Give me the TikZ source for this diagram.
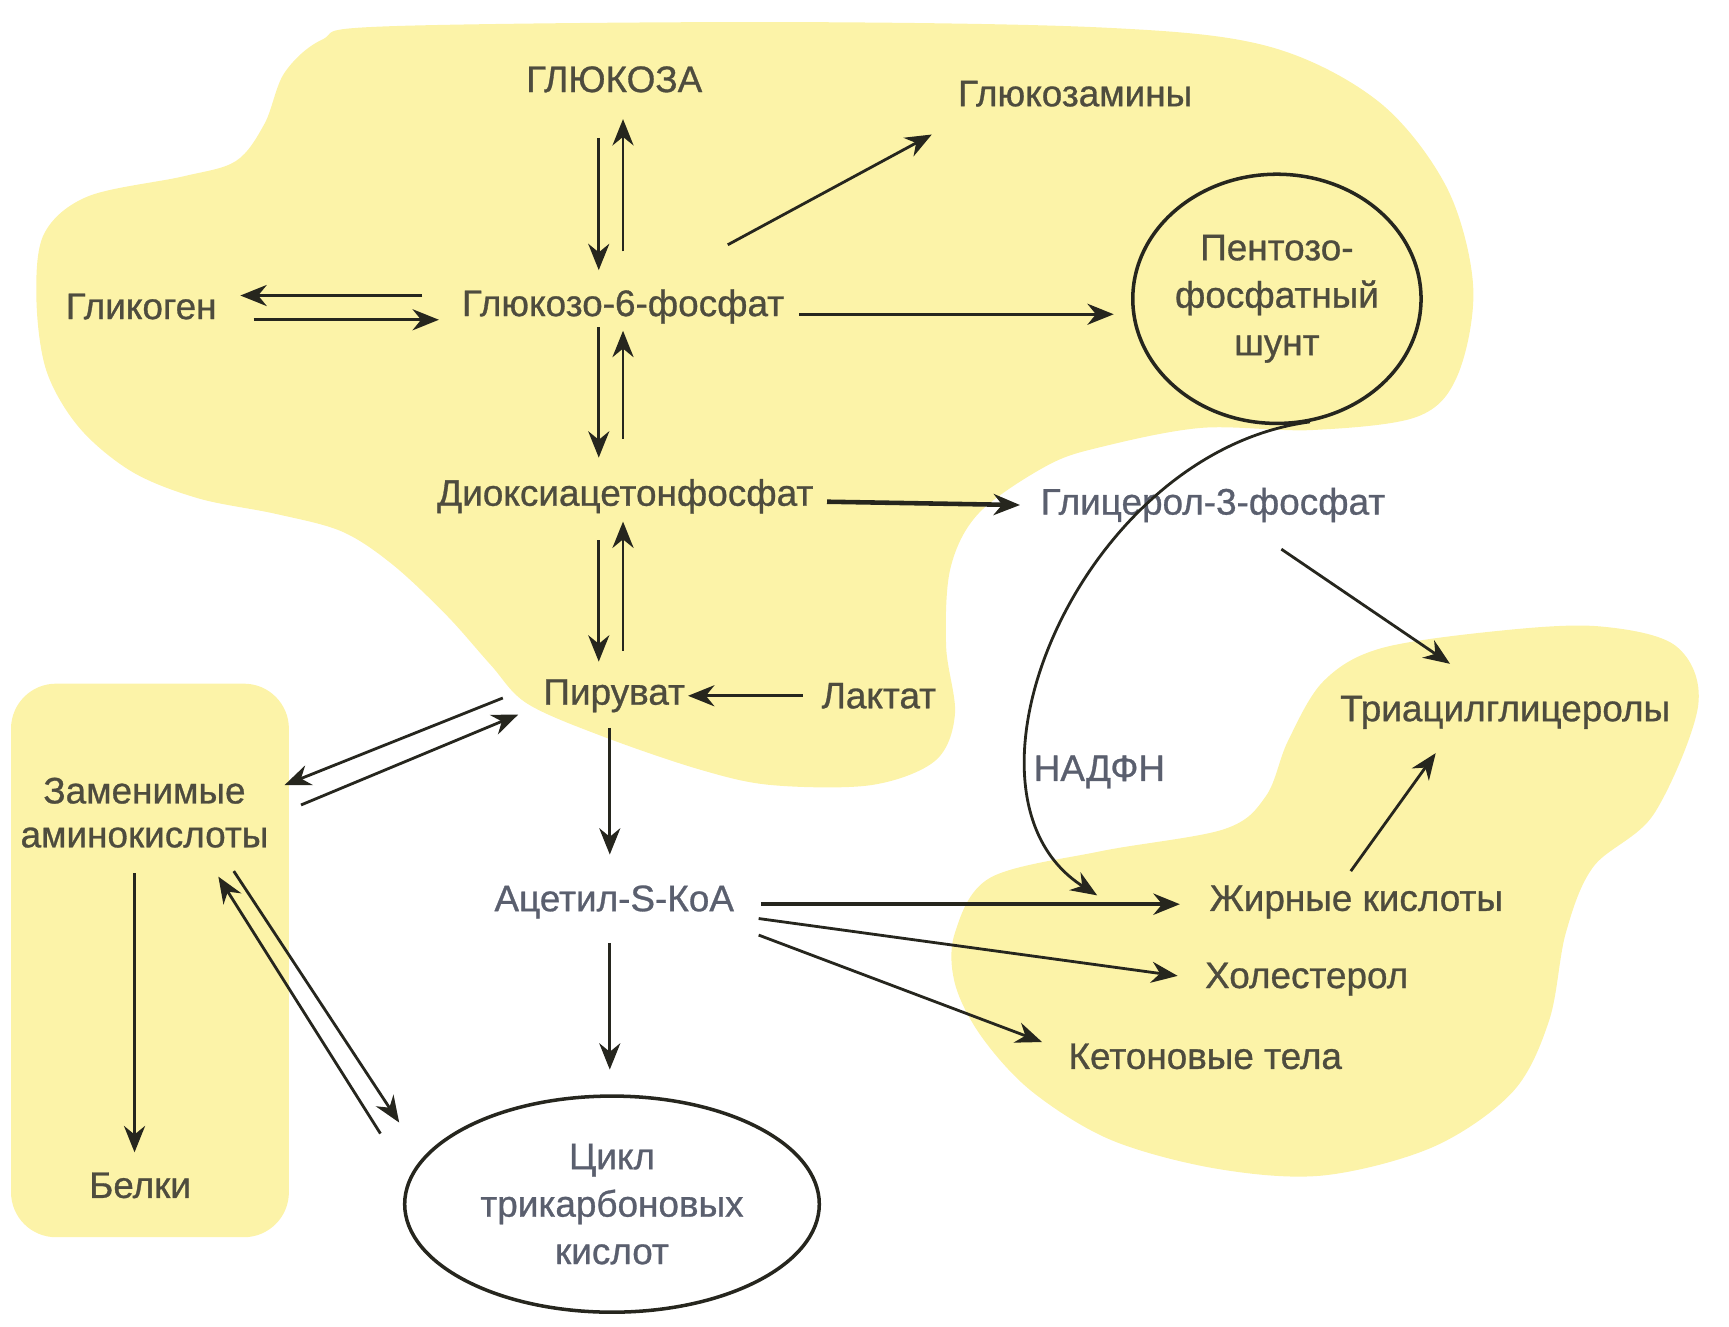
\documentclass[tikz,border=0pt]{standalone}
\usepackage{fontspec}
\setmainfont{Liberation Sans}[RawFeature={embolden=0.8}]
\usepackage{tikz}
\usetikzlibrary{positioning,arrows.meta,shapes.geometric,calc}
\definecolor{blobY}{HTML}{FCF3A8}
\definecolor{txtY}{HTML}{4E4C3E}
\definecolor{txtW}{HTML}{5A5F6E}
\definecolor{ink}{HTML}{26261E}
\tikzset{
  met/.style={text=txtY,font=\fontsize{10.5}{12.5}\selectfont,align=center,inner sep=2pt},
  metw/.style={met,text=txtW},
  cyc/.style={draw=ink,ellipse,line width=1pt,align=center,inner sep=0pt},
  blob/.style={fill=blobY},
  arr/.style={-{Stealth[length=7.5pt,width=6pt]},draw=ink,line width=0.8pt},
  arrb/.style={arr,line width=1.3pt},
}

\begin{document}
\begin{tikzpicture}[x=0.11027mm,y=-0.11027mm]
\useasboundingbox (0,0) rectangle (1568,1203);
% yellow areas
\fill[blob] plot[smooth cycle,tension=0.55] coordinates {
  (348,24) (700,20) (1000,25) (1150,42) (1250,92) (1312,170) (1336,260)
  (1322,340) (1285,378) (1190,390) (1090,388) (1000,405) (950,422) (888,465)
  (862,515) (858,586) (866,648) (848,690) (790,712) (700,712) (635,698)
  (547,668) (478,638) (445,603) (405,558) (356,512) (310,482) (250,466)
  (180,452) (120,428) (72,388) (42,336) (33,270) (40,212)
  (80,178) (166,160) (214,146) (240,112) (258,66) (292,36)};
\fill[blob] plot[smooth cycle,tension=0.55] coordinates {
  (998,772) (1110,752) (1148,722) (1168,672) (1200,618) (1252,588)
  (1360,572) (1450,568) (1520,586) (1540,640) (1500,738) (1445,786)
  (1420,846) (1405,925) (1372,990) (1300,1040) (1200,1066) (1104,1060)
  (1008,1034) (936,990) (890,940) (866,892) (866,846) (898,796)};
\fill[blob,rounded corners=4.5mm] (10,620) rectangle (262,1122);

% metabolites
\node[met] (glc) at (557,72) {ГЛЮКОЗА};
\node[met] (gam) at (975,85) {Глюкозамины};
\node[met] (glg) at (128,278) {Гликоген};
\node[met] (g6p) at (565,278) {Глюкозо-6-фосфат};
\node[cyc,minimum width=248*0.11027mm,minimum height=226*0.11027mm,text=txtY,
  font=\fontsize{10.5}{13.5}\selectfont] (ppp) at (1158,271) {Пентозо-\\фосфатный\\шунт};
\node[met] (dhap) at (567,450) {Диоксиацетонфосфат};
\node[metw] (g3p) at (1100,458) {Глицерол-3-фосфат};
\node[met] (pyr) at (557,631) {Пируват};
\node[met] (lac) at (797,631) {Лактат};
\node[met] (aa) at (131,737) {Заменимые\\аминокислоты};
\node[metw] (acoa) at (557,818) {Ацетил-S-КоА};
\node[cyc,minimum width=376*0.11027mm,minimum height=196*0.11027mm,text=txtW,
  font=\fontsize{10.5}{13.5}\selectfont] (tca) at (555,1092) {Цикл\\трикарбоновых\\кислот};
\node[met] (blk) at (127,1075) {Белки};
\node[met] (fa) at (1230,818) {Жирные кислоты};
\node[met] (chol) at (1185,888) {Холестерол};
\node[met] (ket) at (1093,958) {Кетоновые тела};
\node[met] (tag) at (1365,646) {Триацилглицеролы};
\node[metw] (nadph) at (997,700) {НАДФН};

% reactions
\draw[arr] ($(glc)+(-14,53)$) -- ($(g6p)+(-22,-33)$);
\draw[arr] ($(g6p)+(0,-50)$) -- ($(glc)+(8,36)$);
\draw[arr] ($(g6p)+(95,-56)$) -- ($(gam)+(-130,37)$);
\draw[arr] ($(g6p)+(-182,-10)$) -- ($(glg)+(90,-10)$);
\draw[arr] ($(glg)+(102,12)$) -- ($(g6p)+(-167,12)$);
\draw[arr] ($(g6p)+(160,7)$) -- ($(ppp)+(-148,14)$);
\draw[arr] ($(g6p)+(-22,19)$) -- ($(dhap)+(-24,-35)$);
\draw[arr] ($(dhap)+(-2,-52)$) -- ($(g6p)+(0,22)$);
\draw[arrb] ($(dhap)+(183,5)$) -- ($(g3p)+(-175,0)$);
\draw[arr] ($(dhap)+(-24,40)$) -- ($(pyr)+(-14,-31)$);
\draw[arr] ($(pyr)+(8,-41)$) -- ($(dhap)+(-2,23)$);
\draw[arr] ($(lac)+(-69,0)$) -- ($(pyr)+(67,0)$);
\draw[arr] ($(pyr)+(-101,2)$) -- ($(aa)+(127,-25)$);
\draw[arr] ($(aa)+(142,-7)$) -- ($(pyr)+(-87,17)$);
\draw[arr] ($(pyr)+(-4,29)$) -- ($(acoa)+(-4,-43)$);
\draw[arr] ($(acoa)+(-4,37)$) -- ($(tca)+(-2,-122)$);
\draw[arr] ($(aa)+(-9,55)$) -- ($(blk)+(-5,-30)$);
\draw[arr] ($(tca)+(-210,-64)$) -- ($(aa)+(67,58)$);
\draw[arr] ($(aa)+(81,53)$) -- ($(tca)+(-193,-74)$);
\draw[arrb] ($(acoa)+(133,2)$) -- ($(fa)+(-160,2)$);
\draw[arr] ($(acoa)+(131,15)$) -- ($(chol)+(-117,-3)$);
\draw[arr] ($(acoa)+(131,30)$) -- ($(ket)+(-148,-13)$);
\draw[arr] ($(g3p)+(62,40)$) -- ($(tag)+(-50,-44)$);
\draw[arr] ($(fa)+(-5,-28)$) -- ($(tag)+(-63,37)$);
\draw[arr] (ppp.-75) .. controls (980,410) and (850,720) .. ($(fa)+(-235,-6)$);
\end{tikzpicture}
\end{document}
